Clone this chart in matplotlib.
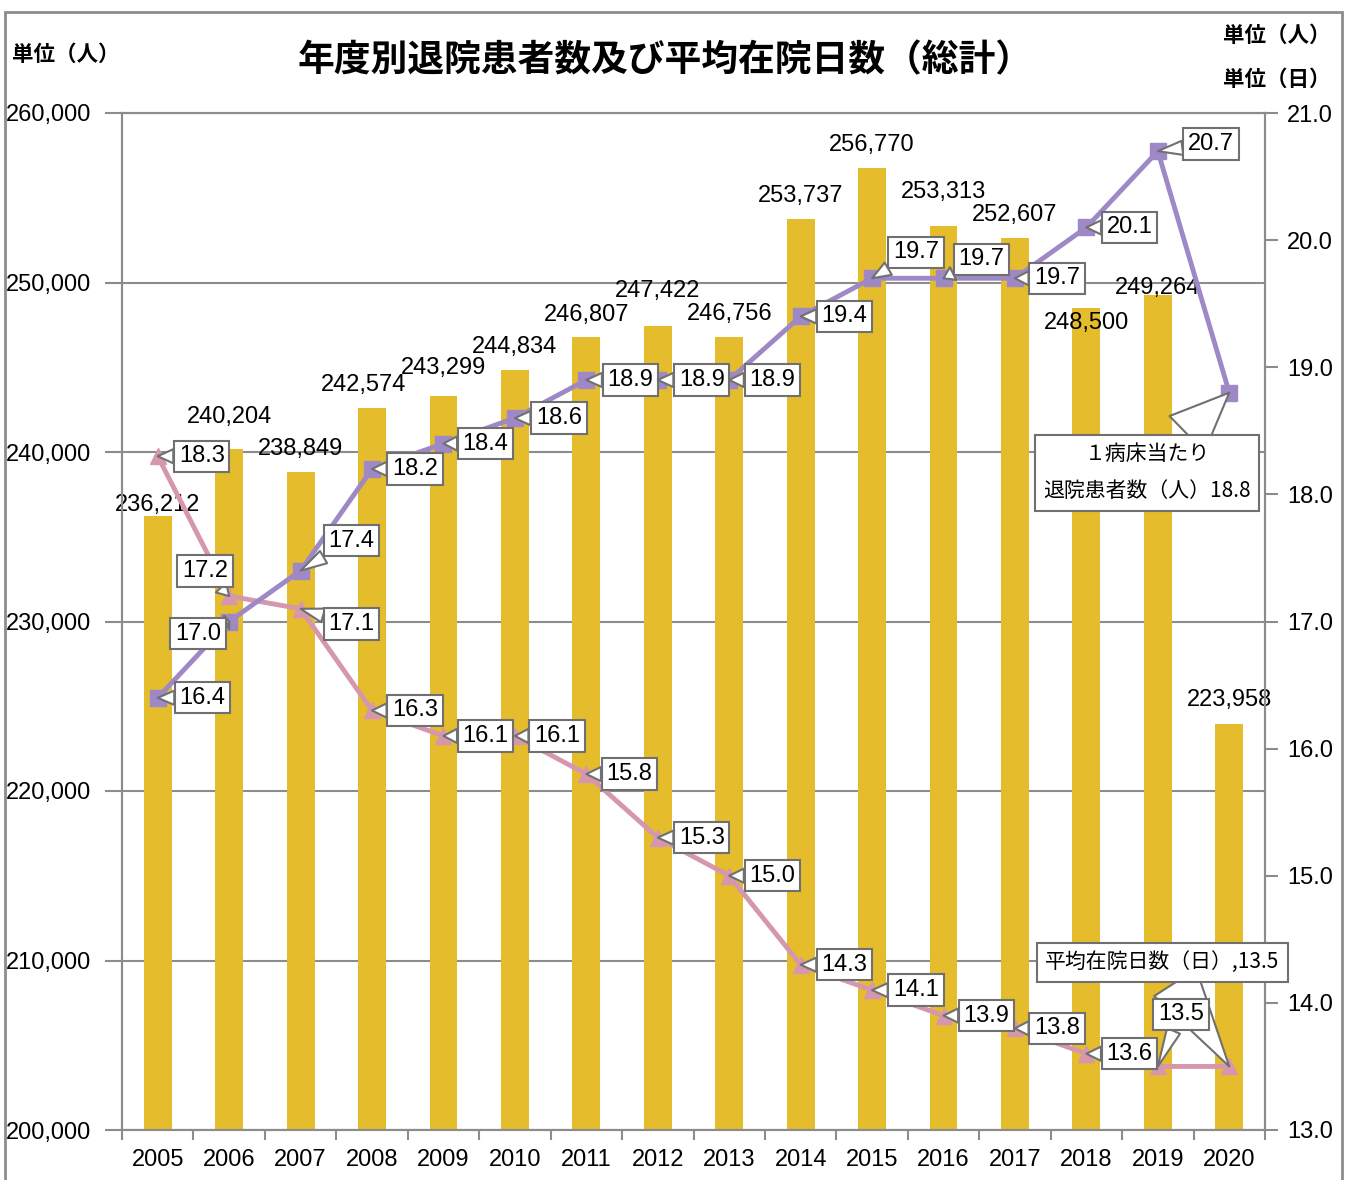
import matplotlib.pyplot as plt
import matplotlib.patches as mpatches

plt.rcParams['font.family'] = ['Liberation Sans', 'Noto Sans CJK JP', 'DejaVu Sans']

# データ
years = ['2005', '2006', '2007', '2008', '2009', '2010', '2011', '2012',
         '2013', '2014', '2015', '2016', '2017', '2018', '2019', '2020']
discharged = [236212, 240204, 238849, 242574, 243299, 244834, 246807, 247422,
              246756, 253737, 256770, 253313, 252607, 248500, 249264, 223958]
per_bed = [16.4, 17.0, 17.4, 18.2, 18.4, 18.6, 18.9, 18.9,
           18.9, 19.4, 19.7, 19.7, 19.7, 20.1, 20.7, 18.8]
avg_stay = [18.3, 17.2, 17.1, 16.3, 16.1, 16.1, 15.8, 15.3,
            15.0, 14.3, 14.1, 13.9, 13.8, 13.6, 13.5, 13.5]

bar_color = '#E5BC2C'
purple = '#9E88C6'
pink = '#D597AE'
grey = '#8C8C8C'

# ラベル位置のずれ (pixel)
bar_off = [(0, 11), (0, 32), (0, 23), (-8, 23), (0, 28), (0, 23), (0, 22), (0, 35),
           (0, 23), (0, 23), (0, 23), (0, 34), (0, 23), (0, -15), (0, 7), (0, 24)]
per_off = [(45, 0), (-31, -12), (51, 30), (43, 0), (42, 0), (44, 0), (44, 0), (44, 0),
           (43, 0), (44, 0), (44, 26), (38, 19), (42, 0), (43, 0), (53, 7), (-82, -80)]
stay_off = [(44, 0), (-24, 25), (51, -15), (43, 0), (42, 0), (42, 0), (43, 0), (44, 0),
            (43, 0), (44, 0), (44, 0), (43, 0), (42, 0), (43, 0), (23, 52), (-67, 104)]

fig = plt.figure(figsize=(13.49, 11.8), dpi=100)
ax = fig.add_axes([122 / 1349, 1 - 1130 / 1180, (1265 - 122) / 1349, (1130 - 113) / 1180])
x = list(range(len(years)))

ax.bar(x, discharged, width=0.39, color=bar_color, zorder=2)
ax.set_ylim(200000, 260000)
ax.set_xlim(-0.5, len(years) - 0.5)
ax.set_yticks(range(200000, 260001, 10000))
ax.set_yticklabels([f'{v:,}' for v in range(200000, 260001, 10000)], fontsize=17)
ax.yaxis.grid(True, color=grey, linewidth=1.5, zorder=0)
ax.set_xticks(x)
ax.set_xticklabels(years, fontsize=17)
ax.set_xticks([i - 0.5 for i in range(len(years) + 1)], minor=True)
ax.tick_params(axis='x', which='major', length=0, pad=14)
ax.tick_params(axis='x', which='minor', length=7, color=grey, width=1.5)
ax.tick_params(axis='y', length=12, color=grey, width=1.5, pad=10)
for s in ax.spines.values():
    s.set_color(grey)
    s.set_linewidth(1.5)

for i, v in enumerate(discharged):
    ax.annotate(f'{v:,}', (i, v), xytext=bar_off[i], textcoords='offset pixels',
                ha='center', va='center', fontsize=17, zorder=5)

ax2 = ax.twinx()
ax2.set_ylim(13.0, 21.0)
ax2.set_yticks([13 + k for k in range(9)])
ax2.set_yticklabels([f'{13 + k:.1f}' for k in range(9)], fontsize=17)
ax2.tick_params(axis='y', length=9, color=grey, width=1.5, pad=7)
for s in ax2.spines.values():
    s.set_color(grey)
    s.set_linewidth(1.5)

ax2.plot(x, avg_stay, color=pink, linewidth=3.5, marker='^', markersize=12, zorder=3)
ax2.plot(x, per_bed, color=purple, linewidth=3.5, marker='s', markersize=11, zorder=3)


def callout(text, xy, off, z=6):
    ax2.annotate(text, xy, xytext=off, textcoords='offset pixels',
                 ha='center', va='center', fontsize=17, zorder=z,
                 bbox=dict(boxstyle='square,pad=0.2', fc='white', ec='#707070', lw=1.5),
                 arrowprops=dict(arrowstyle='wedge,tail_width=0.6,shrink_factor=0.5',
                                 fc='white', ec='#707070', lw=1.5,
                                 shrinkA=0, shrinkB=0))


def big_callout(text, xy, off):
    ax2.annotate(text, xy, xytext=off, textcoords='offset pixels',
                 ha='center', va='center', fontsize=15, zorder=6, linespacing=1.9,
                 multialignment='center', family=['Noto Sans CJK JP', 'DejaVu Sans'],
                 bbox=dict(boxstyle='square,pad=0.4', fc='white', ec='#707070', lw=1.5),
                 arrowprops=dict(arrowstyle='wedge,tail_width=2.4,shrink_factor=0.5',
                                 fc='white', ec='#707070', lw=1.5, shrinkA=0, shrinkB=0))


last = len(years) - 1
for i, v in enumerate(per_bed):
    if i == last:
        big_callout(f'１病床当たり\n退院患者数（人）{v:.1f}', (i, v), per_off[i])
    else:
        callout(f'{v:.1f}', (i, v), per_off[i])

for i, v in enumerate(avg_stay):
    if i == last:
        big_callout(f'平均在院日数（日）,{v:.1f}', (i, v), stay_off[i])
    else:
        callout(f'{v:.1f}', (i, v), stay_off[i], z=7 if i == last - 1 else 6)

fig.text(665 / 1349, 1 - 62 / 1180, '年度別退院患者数及び平均在院日数（総計）',
         ha='center', va='center', fontsize=26.5, fontweight='bold')
fig.text(12 / 1349, 1 - 55 / 1180, '単位（人）', ha='left', va='center',
         fontsize=15.5, fontweight='bold')
fig.text(1330 / 1349, 1 - 36 / 1180, '単位（人）', ha='right', va='center',
         fontsize=15.5, fontweight='bold')
fig.text(1330 / 1349, 1 - 80 / 1180, '単位（日）', ha='right', va='center',
         fontsize=15.5, fontweight='bold')

fig.patches.append(mpatches.Rectangle((5 / 1349, -0.01), (1342 - 5) / 1349, 1 - 12 / 1180 + 0.01,
                                      transform=fig.transFigure, fill=False,
                                      ec=grey, lw=2))

fig.savefig('out.png', dpi=100)
